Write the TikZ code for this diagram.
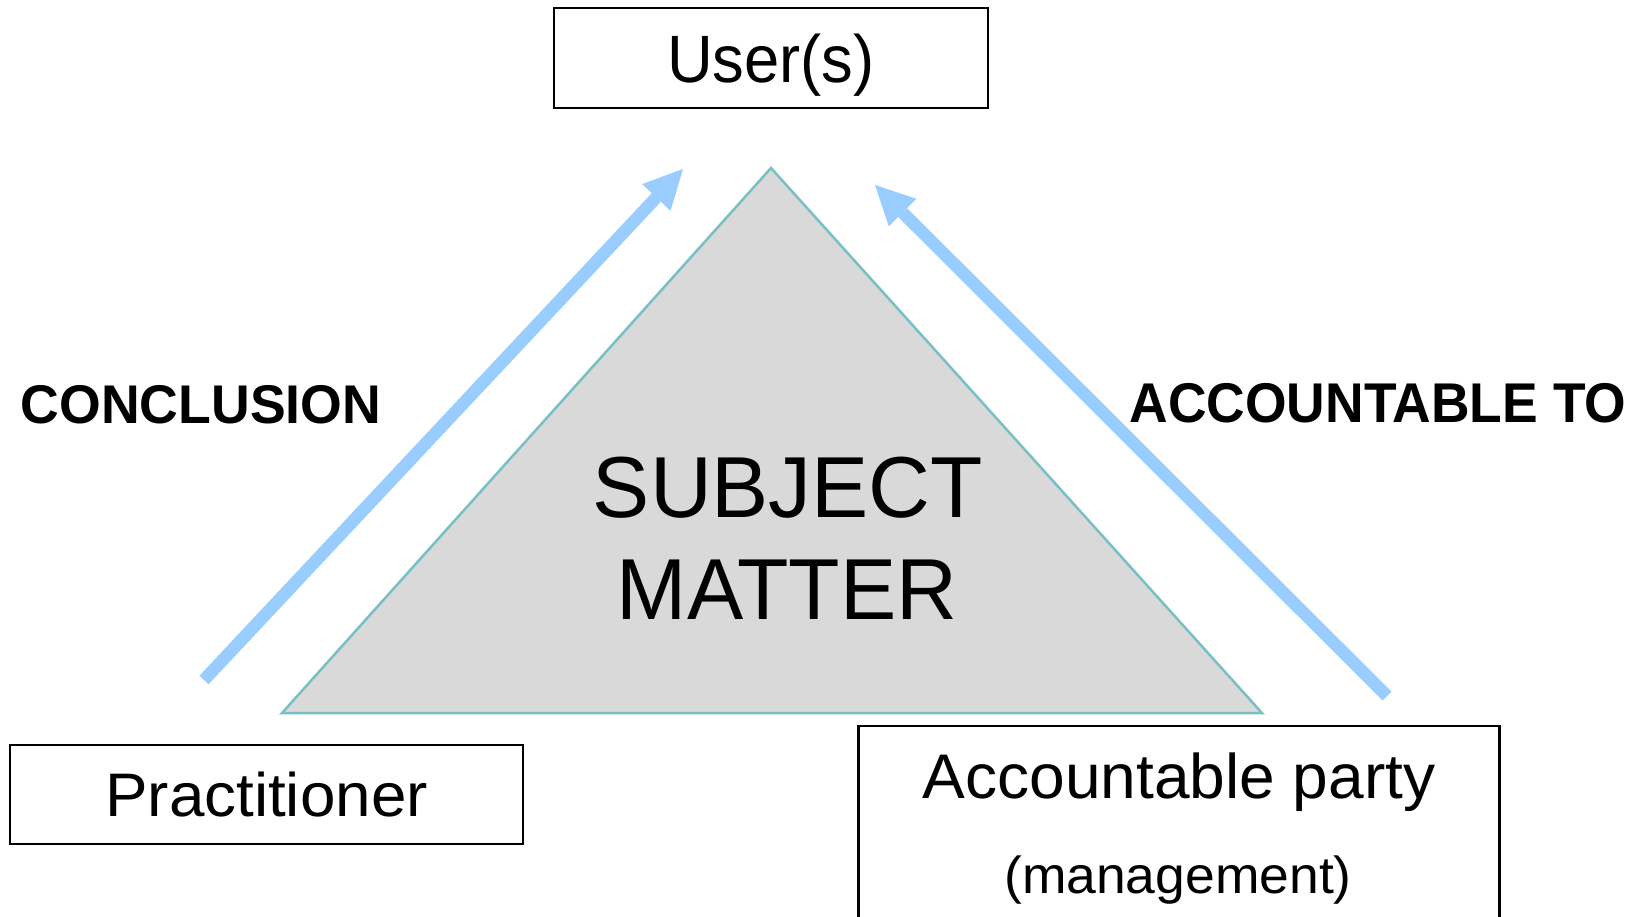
\documentclass[tikz,border=0pt]{standalone}
\usepackage{fontspec}
\usepackage{graphicx}
\setmainfont{Liberation Sans}
\usetikzlibrary{arrows.meta}
\definecolor{arrowblue}{RGB}{153,204,255}
\definecolor{tealline}{RGB}{120,192,196}
\definecolor{trigray}{RGB}{217,217,217}
\tikzset{
  labelbox/.style={draw=black, line width=2.5pt, inner sep=0pt, outer sep=0pt, fill=white},
  flowarrow/.style={draw=arrowblue, line width=12.5pt, line cap=butt,
    -{Triangle[length=39pt,width=39pt,line width=0pt]}},
  plaintext/.style={inner sep=0pt, outer sep=0pt, anchor=base},
}
\begin{document}
\begin{tikzpicture}[x=1pt,y=-1pt]
\clip (0,0) rectangle (1635,916);
\fill[white] (0,0) rectangle (1635,916);

% triangle
\draw[fill=trigray, draw=tealline, line width=2.5pt, line join=miter]
  (282,713) coordinate (tl) -- (771,168) coordinate (tt) -- (1262,713) coordinate (tr) -- cycle;
\node[plaintext] (subj1) at (788,517) {\fontsize{86.6}{102}\selectfont\scalebox{0.989}[1]{SUBJECT}};
\node[plaintext] (subj2) at (787,619) {\fontsize{86.6}{102}\selectfont\scalebox{0.973}[1]{MATTER}};

% boxes
\node[labelbox, minimum width=434pt, text height=74pt, text depth=26pt] (users) at (771,58)
  {\fontsize{67}{80}\selectfont\scalebox{0.945}[1]{User(s)}};
\node[labelbox, minimum width=513pt, text height=71pt, text depth=28pt] (pract) at (266.5,794.5)
  {\fontsize{61.5}{74}\selectfont\scalebox{1.037}[1]{Practitioner}};
\node[labelbox, minimum width=641pt, text height=72pt, text depth=148pt] (acc) at (1179,836)
  {\fontsize{63}{76}\selectfont\scalebox{1.017}[1]{Accountable party}};
\node[plaintext] (mgmt) at (1178,893) {\fontsize{52}{62}\selectfont\scalebox{1.028}[1]{(management)}};

% side labels
\node[plaintext] (concl) at (201,423) {\fontsize{54.5}{64}\selectfont\bfseries\scalebox{0.984}[1]{CONCLUSION}};
\node[plaintext] (accto) at (1378,422) {\fontsize{56}{66}\selectfont\bfseries\scalebox{0.954}[1]{ACCOUNTABLE TO}};

% arrows
\coordinate (la) at (204,680);
\coordinate (lb) at (683,169);
\coordinate (ra) at (1387,696);
\coordinate (rb) at (875,185);
\draw[flowarrow] (la) -- (lb);
\draw[flowarrow] (ra) -- (rb);
\end{tikzpicture}
\end{document}
